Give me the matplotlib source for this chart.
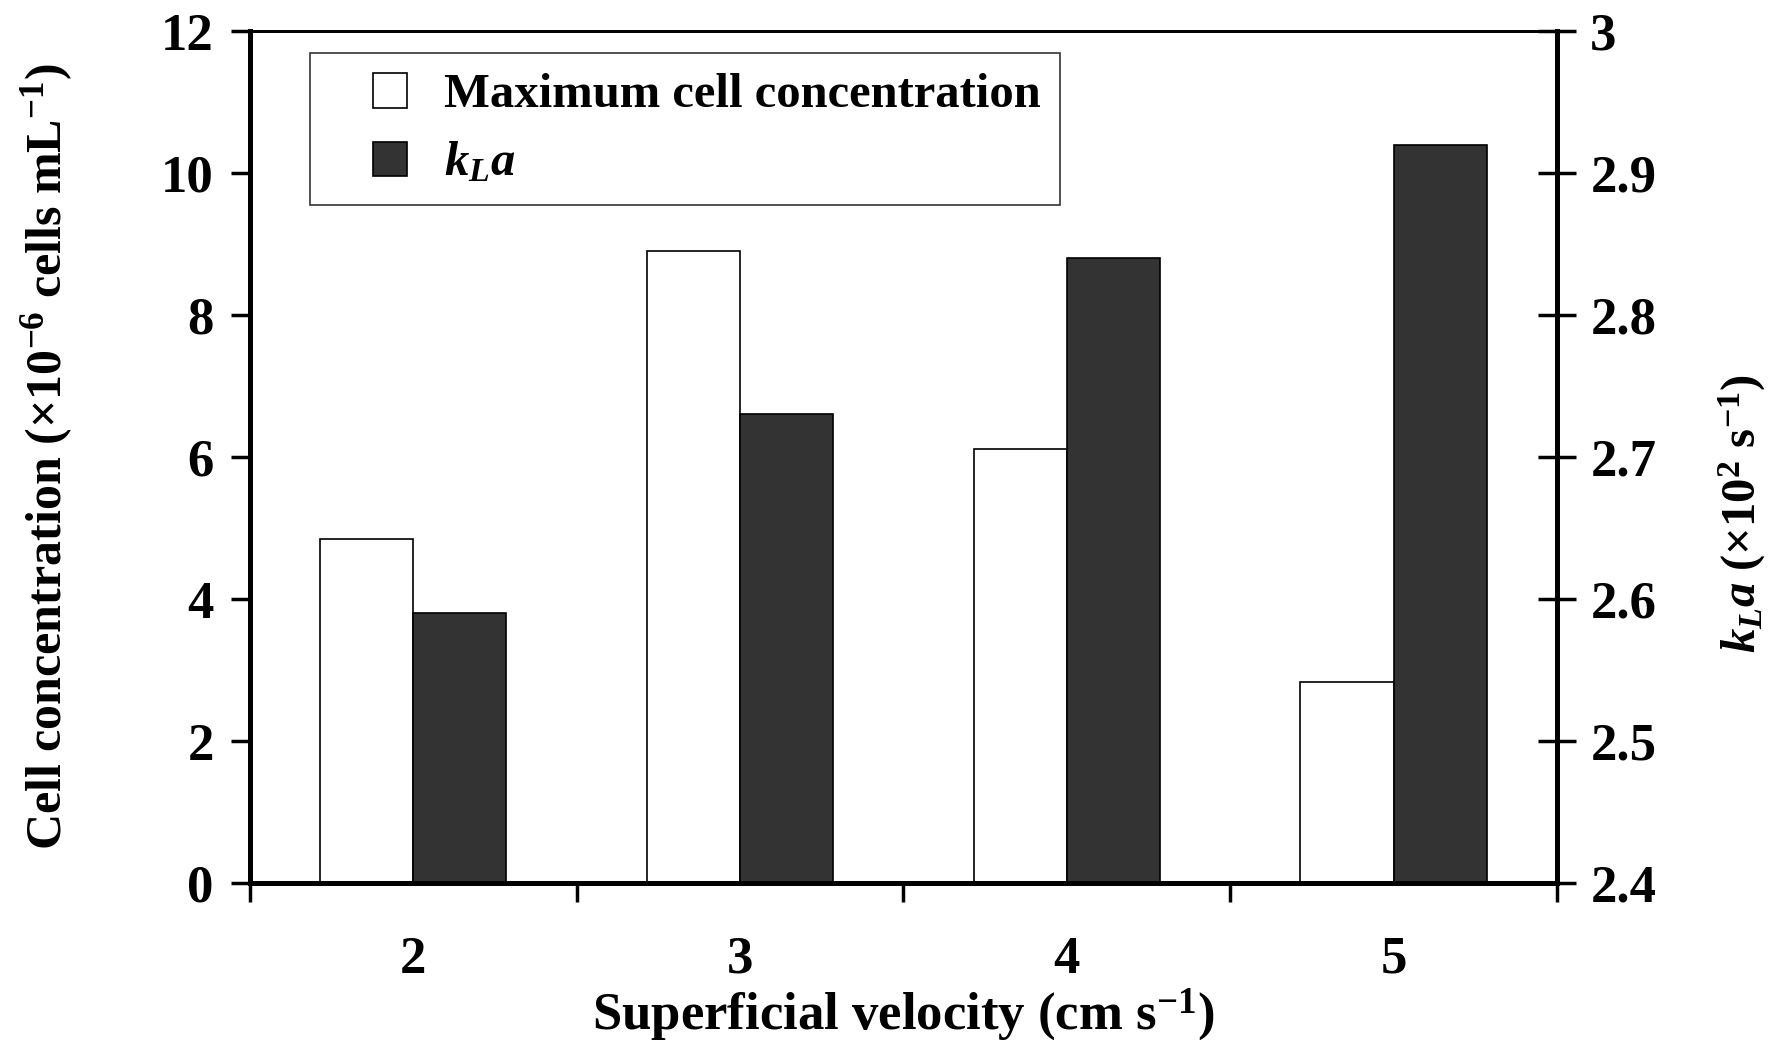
import matplotlib
matplotlib.use("Agg")
import matplotlib.pyplot as plt
import numpy as np
from matplotlib.patches import Patch, Rectangle
from matplotlib.legend_handler import HandlerPatch

# data
velocities = ["2", "3", "4", "5"]
max_cell_conc = [4.84, 8.90, 6.12, 2.83]   # x10^6 cells/mL
kla_values = [2.59, 2.73, 2.84, 2.92]       # x10^-2 1/s

plt.rcParams.update({
    "font.family": "Liberation Serif",
    "font.weight": "bold",
    "mathtext.fontset": "custom",
    "mathtext.rm": "Liberation Serif:bold",
    "mathtext.bf": "Liberation Serif:bold",
    "mathtext.it": "Liberation Serif:italic:bold",
})


def square_patch(legend, orig_handle, xdescent, ydescent, width, height, fontsize):
    # small square sitting at the right end of the handle box
    side = height * 1.05
    return Rectangle((-xdescent + width - side, -ydescent - 0.05 * height), side, side)


fig = plt.figure(figsize=(17.8, 10.4), dpi=100)
ax = fig.add_axes([0.1404, 0.151, 0.7343, 0.819])
ax2 = ax.twinx()

x = np.arange(len(velocities))
width = 0.285

ax.bar(x - width / 2, max_cell_conc, width=width, color="white",
       edgecolor="black", linewidth=1.2, zorder=2)
ax2.bar(x + width / 2, kla_values, width=width, color="#333333",
        edgecolor="black", linewidth=1.2, zorder=2)

ax.set_xlim(-0.5, len(velocities) - 0.5)
ax.set_ylim(0, 12)
ax2.set_ylim(2.4, 3.0)

ax.set_yticks(np.arange(0, 13, 2))
ax2.set_yticks(np.arange(2.4, 3.01, 0.1))
ax2.set_yticklabels(["2.4", "2.5", "2.6", "2.7", "2.8", "2.9", "3"])

# ticks between the groups, labels at the group centres
ax.set_xticks(np.arange(-0.5, len(velocities), 1.0))
ax.set_xticklabels([])
ax.set_xticks(x, minor=True)
ax.set_xticklabels(velocities, minor=True)
ax.tick_params(axis="x", which="major", direction="out", length=14, width=2.5)
ax.tick_params(axis="x", which="minor", length=0, pad=38, labelsize=38)
ax.tick_params(axis="y", direction="out", length=14, width=2.5, labelsize=38, pad=12)
ax2.tick_params(axis="y", direction="inout", length=28, width=2.5, labelsize=38, pad=10)

for a in (ax, ax2):
    a.spines["left"].set_linewidth(3.5)
    a.spines["right"].set_linewidth(3.5)
    a.spines["bottom"].set_linewidth(3.5)
    a.spines["top"].set_linewidth(2)

ax.set_ylabel(r"Cell concentration ($\times$10$^{-6}$ cells mL$^{-1}$)",
              fontsize=36, fontweight="bold", labelpad=62)
ax.set_xlabel(r"Superficial velocity (cm s$^{-1}$)", fontsize=38,
              fontweight="bold", labelpad=2)
ax2.set_ylabel(r"$k_La$ ($\times$10$^{2}$ s$^{-1}$)", fontsize=35,
               fontweight="bold", rotation=90)
ax2.yaxis.set_label_coords(1.122, 0.434)

handles = [
    Patch(facecolor="white", edgecolor="black", linewidth=1.2),
    Patch(facecolor="#333333", edgecolor="black", linewidth=1.2),
]
leg = ax2.legend(handles, ["Maximum cell concentration", r"$k_La$"],
                 loc="upper left", bbox_to_anchor=(0.046, 0.974),
                 fontsize=35, frameon=True, fancybox=False,
                 handler_map={Patch: HandlerPatch(patch_func=square_patch)},
                 handlelength=1.6, handleheight=0.65, handletextpad=0.75,
                 borderpad=0.4, labelspacing=0.5, borderaxespad=0)
leg.get_frame().set_edgecolor("black")
leg.get_frame().set_linewidth(1.2)

fig.savefig("out.png", dpi=100)
